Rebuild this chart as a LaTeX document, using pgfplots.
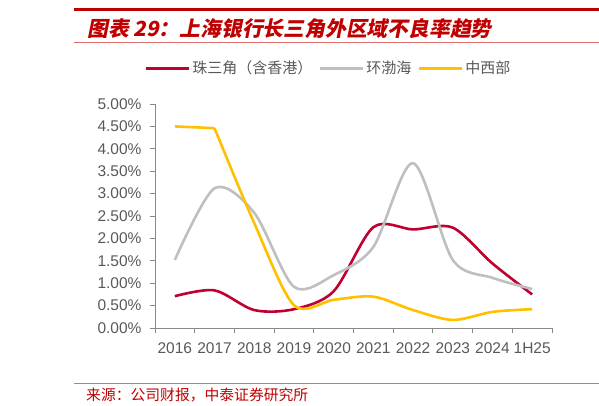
\documentclass[border=0pt]{standalone}
\usepackage{pgfplots}
\pgfplotsset{compat=1.18}
\usepackage{fontspec}
\setmainfont{Liberation Sans}
\newfontfamily\cjk{Noto Sans CJK SC}
\newfontfamily\cjkt{Noto Sans CJK SC}[FakeSlant=0.2]
\definecolor{sred}{RGB}{192,0,48}
\definecolor{sgray}{RGB}{191,191,191}
\definecolor{syel}{RGB}{255,192,0}
\definecolor{ttl}{RGB}{192,0,0}
\definecolor{rule}{RGB}{224,110,110}
\definecolor{txt}{RGB}{89,89,89}
\definecolor{axc}{RGB}{137,137,137}
\begin{document}
\begin{tikzpicture}[x=1pt,y=1pt]
\path[use as bounding box] (0pt,0pt) rectangle (599pt,405pt);
\fill[ttl] (74pt,394.3pt) rectangle (599pt,396.8pt);
\draw[rule, line width=1.2pt] (74pt,362.3pt) -- (599pt,362.3pt);
\draw[rule, line width=1.5pt] (74pt,21.6pt) -- (599pt,21.6pt);
\node[anchor=west, inner sep=0pt, text=ttl] at (87pt,376.4pt) {\cjkt\bfseries\fontsize{20.8}{21}\selectfont 图表 29：上海银行长三角外区域不良率趋势};
\node[anchor=west, inner sep=0pt, text=ttl] at (86pt,9.6pt) {\cjk\fontsize{14.8}{15}\selectfont 来源：公司财报，中泰证券研究所};
\begin{axis}[
  at={(155pt,77pt)}, anchor=south west,
  scale only axis, width=397pt, height=224pt,
  xmin=-0.5, xmax=9.5, ymin=0, ymax=5,
  axis x line=bottom, axis y line=left,
  axis line style={draw=axc, line width=0.9pt, -},
  xtick={0,...,9},
  xticklabels={2016,2017,2018,2019,2020,2021,2022,2023,2024,1H25},
  major x tick style={draw=none},
  minor xtick={-0.5,0.5,...,9.5},
  minor tick length=5pt,
  minor x tick style={draw=axc, line width=0.9pt},
  ytick={0,0.5,...,5},
  yticklabels={0.00\%,0.50\%,1.00\%,1.50\%,2.00\%,2.50\%,3.00\%,3.50\%,4.00\%,4.50\%,5.00\%},
  major tick length=5pt,
  tick align=outside,
  ytick style={draw=axc, line width=0.9pt},
  /pgf/number format/assume math mode=true,
  tick label style={font=\fontsize{15.5}{15.5}\selectfont, text=txt},
  xticklabel style={yshift=-6pt},
  yticklabel style={xshift=-5pt},
  legend style={at={(0.437,1.1607)}, anchor=center, draw=none, fill=none,
    legend columns=3, font=\cjk\fontsize{15}{15}\selectfont, text=txt,
    /tikz/every odd column/.append style={column sep=0pt},
    /tikz/every even column/.append style={column sep=4pt}},
  legend image code/.code={\draw[#1, line width=3pt] (0pt,0pt) -- (43pt,0pt);},
  every axis plot/.append style={line width=2.6pt, smooth, tension=0.5, mark=none},
]
\addplot[sred] coordinates {(0,0.71) (1,0.84) (2,0.40) (3,0.42) (4,0.82) (5,2.25) (6,2.20) (7,2.24) (8,1.44) (9,0.75)};
\addlegendentry{珠三角（含香港）}
\addplot[sgray] coordinates {(0,1.52) (1,3.12) (2,2.57) (3,0.92) (4,1.18) (5,1.81) (6,3.68) (7,1.52) (8,1.12) (9,0.87)};
\addlegendentry{环渤海}
\addplot[syel, sharp plot, forget plot] coordinates {(0,4.50) (1,4.46)};
\addplot[syel] coordinates {(1,4.46) (2,2.34) (3,0.51) (4,0.63) (5,0.70) (6,0.40) (7,0.18) (8,0.36) (9,0.42)};
\addlegendentry{中西部}
\end{axis}
\end{tikzpicture}
\end{document}
